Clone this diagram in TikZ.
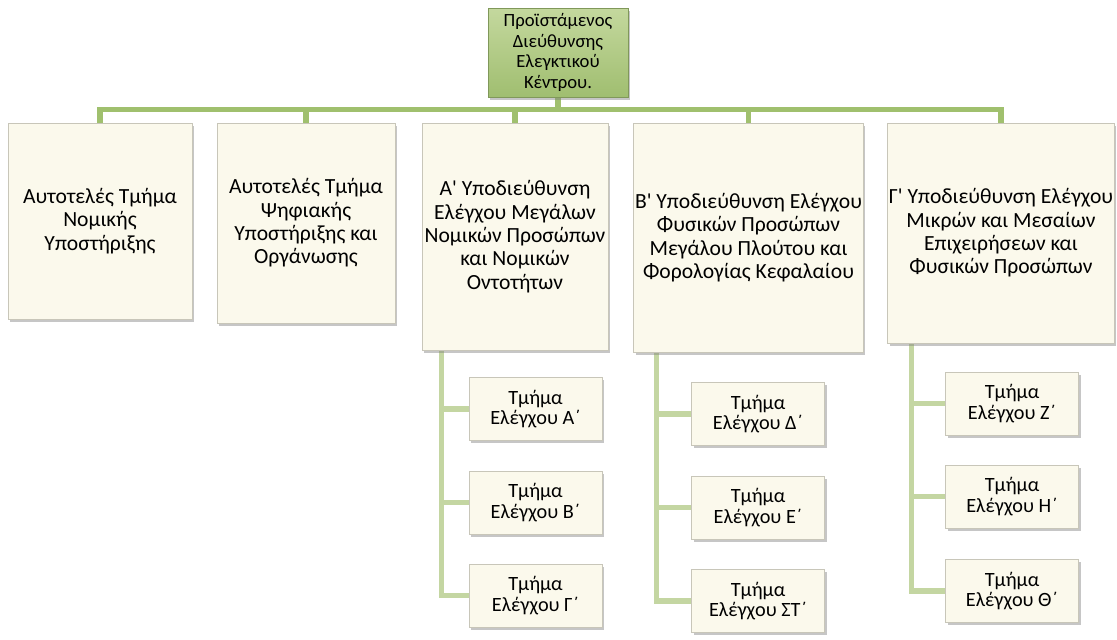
\documentclass[tikz,border=0pt]{standalone}
\usepackage{fontspec}
\setmainfont{Carlito}
\usetikzlibrary{shadows,backgrounds}
\definecolor{cream}{RGB}{251,249,236}
\definecolor{creamedge}{RGB}{200,198,185}
\definecolor{barcol}{RGB}{160,192,110}
\definecolor{leafline}{RGB}{196,214,162}
\definecolor{topfill}{RGB}{160,190,112}
\definecolor{toplight}{RGB}{196,216,158}
\tikzset{
  shbox/.style={draw=creamedge, line width=0.6pt, fill=cream, align=center, inner sep=1pt,
     drop shadow={opacity=0.45, shadow xshift=1.5pt, shadow yshift=-2.2pt}},
  midbox/.style={shbox, font=\fontsize{16.2}{17.5}\selectfont},
  leafbox/.style={shbox, minimum width=133*0.75pt, minimum height=63*0.75pt, font=\fontsize{15.2}{15.5}\selectfont},
  topbox/.style={draw=topfill!80!black, line width=0.6pt, top color=toplight, bottom color=topfill, align=center, inner sep=1pt,
     minimum width=140*0.75pt, minimum height=89*0.75pt, font=\fontsize{14}{15.4}\selectfont,
     drop shadow={opacity=0.45, shadow xshift=1.5pt, shadow yshift=-2.2pt}},
  barline/.style={draw=barcol, line width=3.8pt},
  subline/.style={draw=leafline, line width=3.8pt}
}
\begin{document}
\begin{tikzpicture}[x=0.75pt,y=-0.75pt]
\useasboundingbox (0,0) rectangle (1117,639);
\coordinate (bar) at (0,109.5);
% nodes
\node[topbox] (top) at (558,52.5) {Προϊστάμενος\\Διεύθυνσης\\Ελεγκτικού\\Κέντρου.};
\node[midbox, minimum width=184*0.75pt, minimum height=196*0.75pt] (b1) at (100,221) {Αυτοτελές Τμήμα\\Νομικής\\Υποστήριξης};
\node[midbox, minimum width=178*0.75pt, minimum height=200*0.75pt] (b2) at (306,223) {Αυτοτελές Τμήμα\\Ψηφιακής\\Υποστήριξης και\\Οργάνωσης};
\node[midbox, minimum width=186*0.75pt, minimum height=227*0.75pt] (b3) at (515,236.5) {Α\textquotesingle{} Υποδιεύθυνση\\Ελέγχου Μεγάλων\\Νομικών Προσώπων\\και Νομικών\\Οντοτήτων};
\node[midbox, minimum width=227*0.75pt, minimum height=229*0.75pt] (b4) at (748.5,237.5) {Β\textquotesingle{} Υποδιεύθυνση Ελέγχου\\Φυσικών Προσώπων\\Μεγάλου Πλούτου και\\Φορολογίας Κεφαλαίου};
\node[midbox, minimum width=224*0.75pt, minimum height=220*0.75pt] (b5) at (1001,233) {Γ\textquotesingle{} Υποδιεύθυνση Ελέγχου\\Μικρών και Μεσαίων\\Επιχειρήσεων και\\Φυσικών Προσώπων};
\node[leafbox] (lA) at (535.5,409) {Τμήμα\\Ελέγχου Α΄};
\node[leafbox] (lB) at (535.5,502.5) {Τμήμα\\Ελέγχου Β΄};
\node[leafbox] (lC) at (535.5,595.5) {Τμήμα\\Ελέγχου Γ΄};
\node[leafbox] (lD) at (758,414) {Τμήμα\\Ελέγχου Δ΄};
\node[leafbox] (lE) at (758,507.5) {Τμήμα\\Ελέγχου Ε΄};
\node[leafbox] (lST) at (758,601) {Τμήμα\\Ελέγχου ΣΤ΄};
\node[leafbox] (lZ) at (1012,403.5) {Τμήμα\\Ελέγχου Ζ΄};
\node[leafbox] (lH) at (1012,496.5) {Τμήμα\\Ελέγχου Η΄};
\node[leafbox] (lTH) at (1012,591) {Τμήμα\\Ελέγχου Θ΄};
% connectors behind nodes
\begin{pgfonlayer}{background}
\draw[barline] (top.south) -- (top.south |- bar);
\draw[barline] (b1.north) -- (b1.north |- bar) -- (b5.north |- bar) -- (b5.north);
\foreach \b in {b2,b3,b4}{\draw[barline] (\b.north |- bar) -- (\b.north);}
\foreach \l in {lA,lB,lC}{\draw[subline] ([xshift=20*0.75pt]b3.south west) |- (\l.west);}
\foreach \l in {lD,lE,lST}{\draw[subline] ([xshift=23*0.75pt]b4.south west) |- (\l.west);}
\foreach \l in {lZ,lH,lTH}{\draw[subline] ([xshift=24*0.75pt]b5.south west) |- (\l.west);}
\end{pgfonlayer}
\end{tikzpicture}
\end{document}
